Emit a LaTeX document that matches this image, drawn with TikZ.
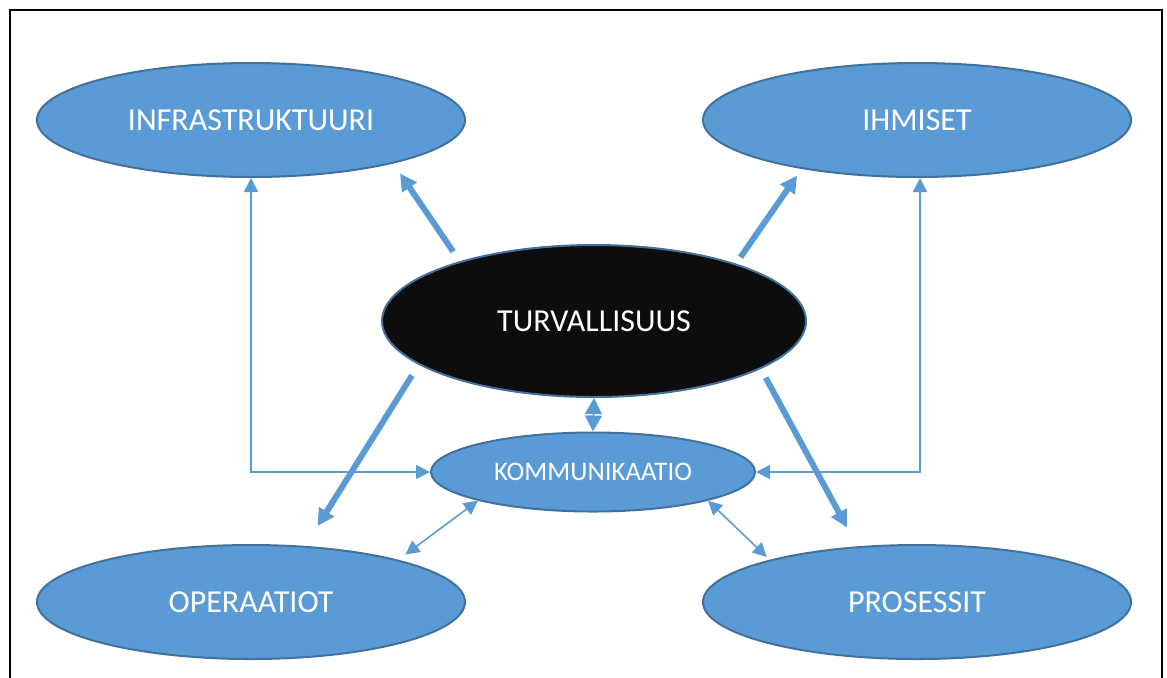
\documentclass[tikz,border=0pt]{standalone}
\usepackage{fontspec}
\setmainfont{Carlito}
\usepackage{xcolor}
\usepackage{tikz}
\usetikzlibrary{shapes.geometric, arrows.meta, positioning, calc}

\definecolor{officeblue}{HTML}{5B9BD5}
\definecolor{edgeblue}{HTML}{41719C}
\definecolor{nearblack}{HTML}{0D0D0D}

\begin{document}
\begin{tikzpicture}[
    x=0.5pt, y=-0.5pt,
    every node/.style={ellipse, draw=edgeblue, line width=1pt, inner sep=0pt, text=white},
    area/.style={fill=officeblue, minimum width=214pt, minimum height=57pt, font=\fontsize{16}{19}\selectfont},
    core/.style={fill=nearblack, minimum width=212pt, minimum height=76pt, font=\fontsize{16}{19}\selectfont},
    hub/.style={fill=officeblue, minimum width=162pt, minimum height=39.5pt, font=\fontsize{13.4}{16}\selectfont},
    flow/.style={draw=officeblue, line width=3pt, -{Triangle[length=8.5pt, width=8.5pt]}},
    link/.style={draw=officeblue, line width=0.8pt, {Triangle[length=7pt, width=7pt]}-{Triangle[length=7pt, width=7pt]}}
]
\useasboundingbox (0,0) rectangle (1167,677);
\clip (0,0) rectangle (1167,677);

% Frame
\draw[line width=1pt] (10,10) rectangle (1162,720);

\node[area] (infra) at (251,120) {INFRASTRUKTUURI};
\node[area] (ihmiset) at (917,120) {IHMISET};
\node[core] (turva) at (594,321) {TURVALLISUUS};
\node[hub] (komm) at (593,472) {KOMMUNIKAATIO};
\node[area] (oper) at (251,602) {OPERAATIOT};
\node[area] (proses) at (917,602) {PROSESSIT};

% Thick arrows out of the core
\draw[flow, shorten <=5.8pt, shorten >=6pt] (turva.156.7) -- (infra.343);
\draw[flow, shorten <=3.9pt, shorten >=4pt] (turva.22.9) -- (ihmiset.203.2);
\draw[flow, shorten <=6.3pt, shorten >=11.7pt] (turva.194.4) -- (oper.46.6);
\draw[flow, shorten <=5pt, shorten >=10.7pt] (turva.344.7) -- (proses.137);

% Communication links
\draw[link] (infra.south) |- (komm.west);
\draw[link] ([xshift=1.5pt]ihmiset.south) |- (komm.east);
\draw[link, {Triangle[length=8pt, width=8.5pt]}-{Triangle[length=8pt, width=8.5pt]}] (turva.south) -- (komm.north);
\draw[link, shorten >=4.4pt] (komm.194.2) -- (oper.16.2);
\draw[link, shorten >=2pt] (komm.346.6) -- (proses.164.7);

\end{tikzpicture}
\end{document}
